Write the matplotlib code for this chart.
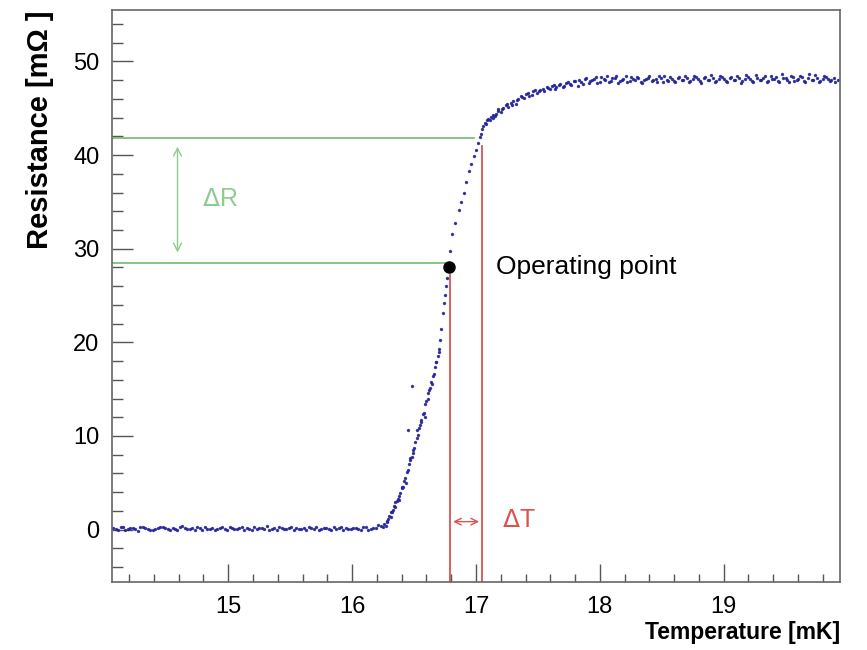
""" plot.py - superconducting transition with operating point """

import numpy as np
import matplotlib.pyplot as plt
from matplotlib.ticker import MultipleLocator

plt.rcParams['font.family'] = ['Liberation Sans', 'DejaVu Sans']

# Normal-conducting -> superconducting data
flat_T = [14.07, 14.11, 14.15, 14.19, 14.23, 14.27, 14.31, 14.35, 14.39, 14.43,
          14.47, 14.51, 14.55, 14.59, 14.63, 14.67, 14.71, 14.75, 14.79, 14.83,
          14.87, 14.91, 14.95, 14.99, 15.03, 15.07, 15.11, 15.15, 15.19, 15.23,
          15.27, 15.31, 15.35, 15.39, 15.43, 15.47, 15.51, 15.55, 15.59, 15.63,
          15.67, 15.71, 15.75, 15.79, 15.83, 15.87, 15.91, 15.95, 15.99, 16.03,
          16.07, 16.11, 16.15, 16.19, 16.23]
flat_R = [0.2, 0.0, 0.3, 0.1, 0.2, -0.1, 0.3, 0.1, 0.0, 0.2,
          0.3, 0.1, 0.2, 0.0, 0.4, 0.1, 0.2, 0.3, 0.0, 0.1,
          0.2, 0.1, 0.3, 0.0, 0.2, 0.1, 0.3, 0.2, 0.0, 0.1,
          0.2, 0.4, 0.1, 0.0, 0.2, 0.1, 0.3, 0.2, 0.1, 0.0,
          0.2, 0.3, 0.1, 0.2, 0.0, 0.1, 0.3, 0.2, 0.1, 0.2,
          0.0, 0.3, 0.1, 0.2, 0.4]

flat2_T = [14.09, 14.13, 14.17, 14.21, 14.25, 14.29, 14.33, 14.37, 14.41, 14.45,
           14.49, 14.53, 14.57, 14.61, 14.65, 14.69, 14.73, 14.77, 14.81, 14.85,
           14.89, 14.93, 14.97, 15.01, 15.05, 15.09, 15.13, 15.17, 15.21, 15.25,
           15.29, 15.33, 15.37, 15.41, 15.45, 15.49, 15.53, 15.57, 15.61, 15.65,
           15.69, 15.73, 15.77, 15.81, 15.85, 15.89, 15.93, 15.97, 16.01, 16.05,
           16.09, 16.13, 16.17, 16.21]
flat2_R = [0.1, 0.3, 0.0, 0.2, 0.1, 0.3, 0.2, 0.0, 0.1, 0.3,
           0.2, 0.0, 0.1, 0.3, 0.2, 0.1, 0.0, 0.2, 0.3, 0.1,
           0.0, 0.2, 0.1, 0.3, 0.1, 0.2, 0.0, 0.1, 0.3, 0.2,
           0.1, 0.0, 0.2, 0.3, 0.1, 0.2, 0.0, 0.1, 0.2, 0.3,
           0.1, 0.0, 0.2, 0.1, 0.3, 0.2, 0.0, 0.1, 0.2, 0.1,
           0.3, 0.0, 0.2, 0.5]

rise_T = [16.25, 16.26, 16.27, 16.28, 16.29, 16.30, 16.31, 16.32, 16.33, 16.34,
          16.35, 16.36, 16.37, 16.38, 16.39, 16.40, 16.41, 16.42, 16.43, 16.44,
          16.45, 16.46, 16.47, 16.48, 16.49, 16.50, 16.51, 16.52, 16.53, 16.54,
          16.55, 16.56, 16.57, 16.58, 16.59, 16.60, 16.61, 16.62, 16.63, 16.64,
          16.65, 16.66, 16.67, 16.68, 16.69, 16.70, 16.71, 16.72, 16.73, 16.74,
          16.75, 16.76, 16.77, 16.79, 16.81, 16.83, 16.86, 16.88, 16.90, 16.92,
          16.94, 16.96, 16.98, 17.00, 17.02, 17.03, 17.04, 17.05, 17.06, 17.07,
          17.08, 17.09, 17.10, 16.48, 16.45]
rise_R = [0.3, 0.6, 0.4, 0.9, 1.1, 1.4, 1.3, 1.9, 2.1, 2.5,
          2.4, 3.0, 3.3, 3.6, 3.9, 4.4, 4.5, 5.2, 5.5, 6.1,
          6.4, 7.0, 7.4, 7.8, 8.5, 8.7, 9.4, 9.8, 10.1, 10.9,
          11.2, 11.5, 12.3, 12.5, 13.4, 13.7, 14.0, 14.9, 15.1, 15.8,
          16.4, 16.6, 17.4, 17.9, 18.5, 19.3, 20.2, 21.4, 23.1, 24.2,
          25.1, 26.0, 26.9, 29.8, 31.6, 32.8, 34.1, 35.0, 36.0, 37.1,
          38.3, 39.1, 39.9, 40.5, 41.3, 41.9, 42.3, 42.8, 43.1, 43.4,
          43.3, 43.7, 43.9, 15.3, 10.6]

rise2_T = [16.285, 16.315, 16.345, 16.375, 16.405, 16.435, 16.465, 16.495,
           16.525, 16.555, 16.585, 16.615, 16.645, 16.675, 16.705,
           17.115, 17.135, 17.155, 17.175, 17.21, 17.25, 17.29, 17.33, 17.36,
           17.39, 17.42, 17.45, 17.48, 17.51, 17.54, 17.57, 17.60, 17.63]
rise2_R = [0.8, 1.9, 2.9, 3.2, 4.6, 5.0, 7.6, 8.2,
           10.6, 11.7, 12.0, 14.6, 15.5, 17.9, 19.0,
           43.8, 44.3, 44.2, 44.9, 44.9, 45.5, 45.4, 45.9, 46.3,
           46.1, 46.6, 46.4, 47.0, 46.8, 47.1, 47.3, 47.1, 47.5]

top_T = [17.12, 17.14, 17.16, 17.18, 17.20, 17.22, 17.24, 17.26, 17.28, 17.30,
         17.32, 17.34, 17.37, 17.40, 17.43, 17.46, 17.49, 17.52, 17.55, 17.58,
         17.61, 17.64, 17.67, 17.70, 17.73, 17.76, 17.79, 17.82, 17.85, 17.88,
         17.91, 17.94, 17.97, 18.00, 18.03, 18.06, 18.09, 18.12, 18.15, 18.18,
         18.21, 18.24, 18.27, 18.30, 18.33, 18.36, 18.39, 18.42, 18.45, 18.48,
         18.51, 18.54, 18.57, 18.60, 18.63, 18.66, 18.69, 18.72, 18.75, 18.78,
         18.81, 18.84, 18.87, 18.90, 18.93, 18.96, 18.99, 19.02, 19.05, 19.08,
         19.11, 19.14, 19.17, 19.20, 19.23, 19.26, 19.29, 19.32, 19.35, 19.38,
         19.41, 19.44, 19.47, 19.50, 19.53, 19.56, 19.59, 19.62, 19.65, 19.68,
         19.71, 19.74, 19.77, 19.80, 19.83, 19.86, 19.89, 19.92]
top_R = [44.1, 44.0, 44.4, 44.7, 44.6, 45.0, 45.3, 45.1, 45.6, 45.8,
         45.5, 46.0, 46.2, 46.5, 46.3, 46.8, 46.6, 47.0, 46.9, 47.2,
         47.4, 47.1, 47.5, 47.3, 47.7, 47.6, 47.9, 47.4, 47.8, 48.1,
         47.7, 48.0, 48.3, 47.8, 48.1, 48.4, 47.9, 48.2, 47.7, 48.0,
         48.5, 47.9, 48.1, 48.3, 47.8, 48.0, 48.2, 47.9, 48.1, 48.4,
         47.8, 48.0, 48.3, 47.9, 48.2, 48.0, 48.5, 47.8, 48.1, 48.3,
         47.9, 48.2, 48.0, 48.6, 47.8, 48.1, 48.3, 47.9, 48.2, 48.0,
         48.4, 47.7, 48.1, 48.3, 47.9, 48.6, 48.0, 48.2, 47.8, 48.4,
         48.1, 47.9, 48.7, 48.2, 47.8, 48.3, 48.0, 48.5, 47.9, 48.2,
         48.0, 48.6, 47.8, 48.1, 48.3, 47.9, 48.2, 48.0]

top2_T = [17.65, 17.68, 17.71, 17.74, 17.77, 17.80, 17.83, 17.86, 17.89, 17.92,
          17.95, 17.98, 18.01, 18.04, 18.07, 18.10, 18.13, 18.16, 18.19, 18.22,
          18.25, 18.28, 18.31, 18.34, 18.37, 18.40, 18.43, 18.46, 18.49, 18.52,
          18.55, 18.58, 18.61, 18.64, 18.67, 18.70, 18.73, 18.76, 18.79, 18.82,
          18.85, 18.88, 18.91, 18.94, 18.97, 19.00, 19.03, 19.06, 19.09, 19.12,
          19.15, 19.18, 19.21, 19.24, 19.27, 19.30, 19.33, 19.36, 19.39, 19.42,
          19.45, 19.48, 19.51, 19.54, 19.57, 19.60, 19.63, 19.66, 19.69, 19.72,
          19.75, 19.78, 19.81, 19.84, 19.87, 19.90]
top2_R = [47.3, 47.6, 47.4, 47.8, 47.5, 47.9, 48.0, 47.6, 48.2, 47.9,
          48.1, 47.7, 48.3, 48.0, 47.8, 48.2, 48.4, 47.9, 48.1, 47.8,
          48.3, 48.0, 48.2, 47.7, 48.1, 48.4, 48.0, 47.8, 48.2, 48.5,
          47.9, 48.1, 47.8, 48.3, 48.0, 48.2, 47.9, 48.4, 48.1, 47.7,
          48.3, 48.0, 48.2, 47.9, 48.5, 48.1, 47.8, 48.3, 48.0, 48.2,
          47.9, 48.6, 48.1, 47.8, 48.2, 48.0, 48.4, 47.9, 48.1, 48.3,
          47.8, 48.2, 48.0, 48.5, 47.9, 48.1, 48.3, 47.8, 48.7, 48.0,
          48.2, 47.9, 48.4, 48.1, 48.0, 47.8]

# Operating point and the markers around it
op_T, op_R = 16.78, 28.0
R_low, R_high = 28.5, 41.8      # green horizontal lines
T_low, T_high = 16.79, 17.05    # red vertical lines

x_min, x_max = 14.06, 19.94
y_min, y_max = -5.6, 55.5

green_line = '#74b874'
green_text = '#8fcc8f'
red = '#d9544f'
blue = '#22229a'

fig = plt.figure(figsize=(8.67, 6.5), dpi=100)
ax = fig.add_axes([0.129, 0.1046, 0.84, 0.88])

T = np.array(flat_T + flat2_T + rise_T + rise2_T + top_T + top2_T)
R = np.array(flat_R + flat2_R + rise_R + rise2_R + top_R + top2_R)
ax.plot(T, R, ls='none', marker='.', ms=2.8, color=blue, alpha=0.85)

# delta R lines
ax.plot([x_min, 16.98], [R_high, R_high], color=green_line, lw=1.2)
ax.plot([x_min, 16.75], [R_low, R_low], color=green_line, lw=1.2)
ax.annotate('', xy=(14.59, 29.6), xytext=(14.59, 40.9),
            arrowprops=dict(arrowstyle='<->', color=green_text, lw=1.0,
                            shrinkA=0, shrinkB=0, mutation_scale=14))
ax.text(14.79, 35.3, r'$\Delta$R', color=green_text, fontsize=18,
        va='center', ha='left')

# delta T lines
ax.plot([T_low, T_low], [y_min, 27.2], color=red, lw=1.3)
ax.plot([T_high, T_high], [y_min, 41.0], color=red, lw=1.3)
ax.annotate('', xy=(16.815, 0.85), xytext=(17.025, 0.85),
            arrowprops=dict(arrowstyle='<->', color=red, lw=1.0,
                            shrinkA=0, shrinkB=0, mutation_scale=12))
ax.text(17.21, 1.0, r'$\Delta$T', color=red, fontsize=18, va='center', ha='left')

# operating point
ax.plot([op_T], [op_R], 'o', color='black', ms=8)
ax.text(17.16, 28.1, 'Operating point', fontsize=19, va='center', ha='left')

ax.set_xlim(x_min, x_max)
ax.set_ylim(y_min, y_max)

ax.xaxis.set_major_locator(MultipleLocator(1))
ax.xaxis.set_minor_locator(MultipleLocator(0.2))
ax.yaxis.set_major_locator(MultipleLocator(10))
ax.yaxis.set_minor_locator(MultipleLocator(2))

ax.tick_params(axis='x', which='major', direction='in', length=13, width=1,
               color='#555555', labelsize=17, pad=10, top=False)
ax.tick_params(axis='x', which='minor', direction='in', length=6, width=1,
               color='#555555', top=False)
ax.tick_params(axis='y', which='major', direction='in', length=15, width=1,
               color='#555555', labelsize=17, pad=9, right=False)
ax.tick_params(axis='y', which='minor', direction='in', length=8, width=1,
               color='#555555', right=False)

for spine in ax.spines.values():
    spine.set_color('#666666')
    spine.set_linewidth(1.2)

ax.set_xlabel('Temperature [mK]', fontsize=16.5, fontweight='bold',
              loc='right', labelpad=2)
ax.set_ylabel('Resistance [m\u03a9 ]', fontsize=21, fontweight='bold',
              loc='top', labelpad=14)

fig.savefig('out.png', dpi=100)
